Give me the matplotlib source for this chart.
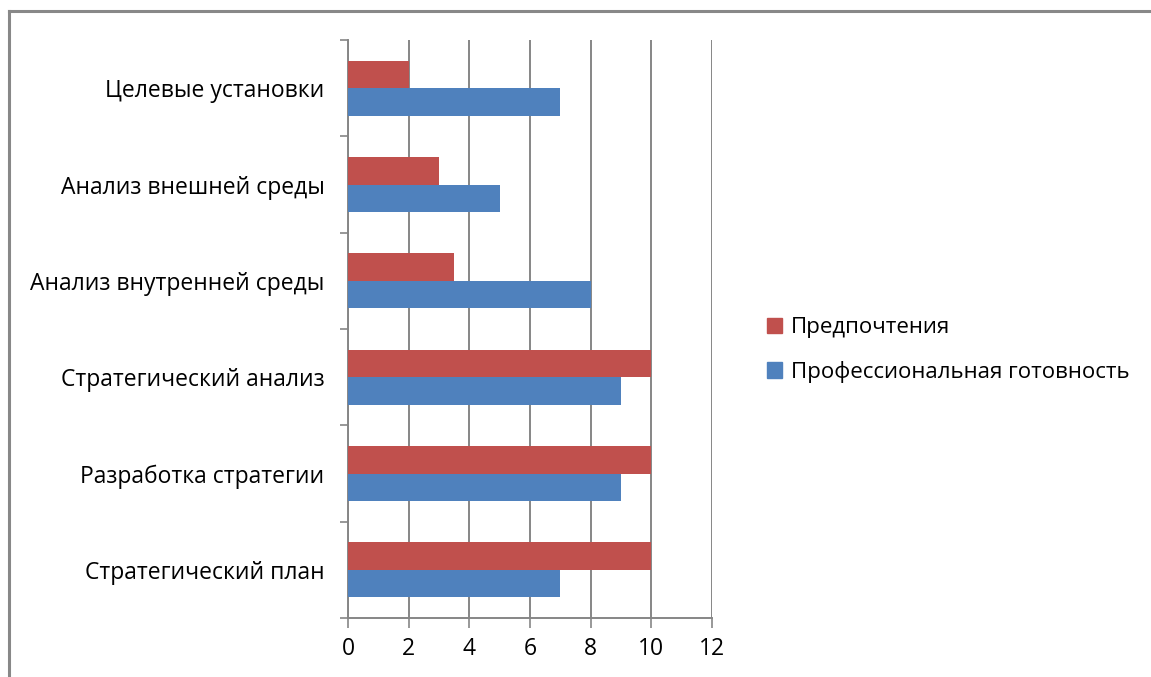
import matplotlib
matplotlib.use("Agg")
import matplotlib.pyplot as plt
import numpy as np
from matplotlib.patches import Patch
from matplotlib.lines import Line2D

categories = ["Стратегический план", "Разработка стратегии", "Стратегический анализ",
              "Анализ внутренней среды", "Анализ внешней среды", "Целевые установки"]
preferences = [10, 10, 10, 3.5, 3, 2]
readiness = [7, 9, 9, 8, 5, 7]
series_names = ["Предпочтения", "Профессиональная готовность"]
xticks = [0, 2, 4, 6, 8, 10, 12]

RED = "#C0504D"
BLUE = "#4F81BD"
GRAY = "#868686"

plt.rcParams['font.family'] = ['Open Sans', 'DejaVu Sans']

W, H = 1151, 677
fig = plt.figure(figsize=(W/100, H/100), dpi=100)
ax = fig.add_axes([348/W, 1-618/H, (712-348)/W, (618-40)/H])

y = np.arange(len(categories))
bh = 0.285
ax.barh(y + bh/2, preferences, height=bh, color=RED, zorder=3)
ax.barh(y - bh/2, readiness, height=bh, color=BLUE, zorder=3)

ax.set_xlim(0, 12)
ax.set_ylim(-0.5, len(categories) - 0.5)
ax.set_xticks(xticks)
ax.set_xticklabels([str(v) for v in xticks])
ax.set_yticks(y)
ax.set_yticklabels(categories)
ax.set_yticks(np.arange(-0.5, len(categories)), minor=True)
ax.tick_params(axis='y', which='major', length=0, pad=17, labelsize=16.5)
ax.tick_params(axis='y', which='minor', length=6, width=1.2, color=GRAY, direction='out')
ax.tick_params(axis='x', which='major', length=7, width=1.2, color=GRAY, direction='out', labelsize=16.5, pad=7)

ax.grid(axis='x', color=GRAY, linewidth=1.4, zorder=0)
for s in ['top', 'right']:
    ax.spines[s].set_visible(False)
for s in ['left', 'bottom']:
    ax.spines[s].set_color(GRAY)
    ax.spines[s].set_linewidth(1.4)

handles = [Patch(color=RED, label=series_names[0]), Patch(color=BLUE, label=series_names[1])]
fig.legend(handles=handles, loc='center left', bbox_to_anchor=(758/W, 1-350/H),
           frameon=False, fontsize=16, handlelength=0.7, handleheight=0.7,
           handletextpad=0.4, labelspacing=1.0, borderaxespad=0)

bx = 9/W
by = 1 - 11/H
fig.add_artist(Line2D([bx, bx], [-0.05, by], transform=fig.transFigure, color="#888888", linewidth=2.2, solid_capstyle='projecting'))
fig.add_artist(Line2D([bx, 1.05], [by, by], transform=fig.transFigure, color="#888888", linewidth=2.2, solid_capstyle='projecting'))

fig.savefig("out.png", dpi=100)
